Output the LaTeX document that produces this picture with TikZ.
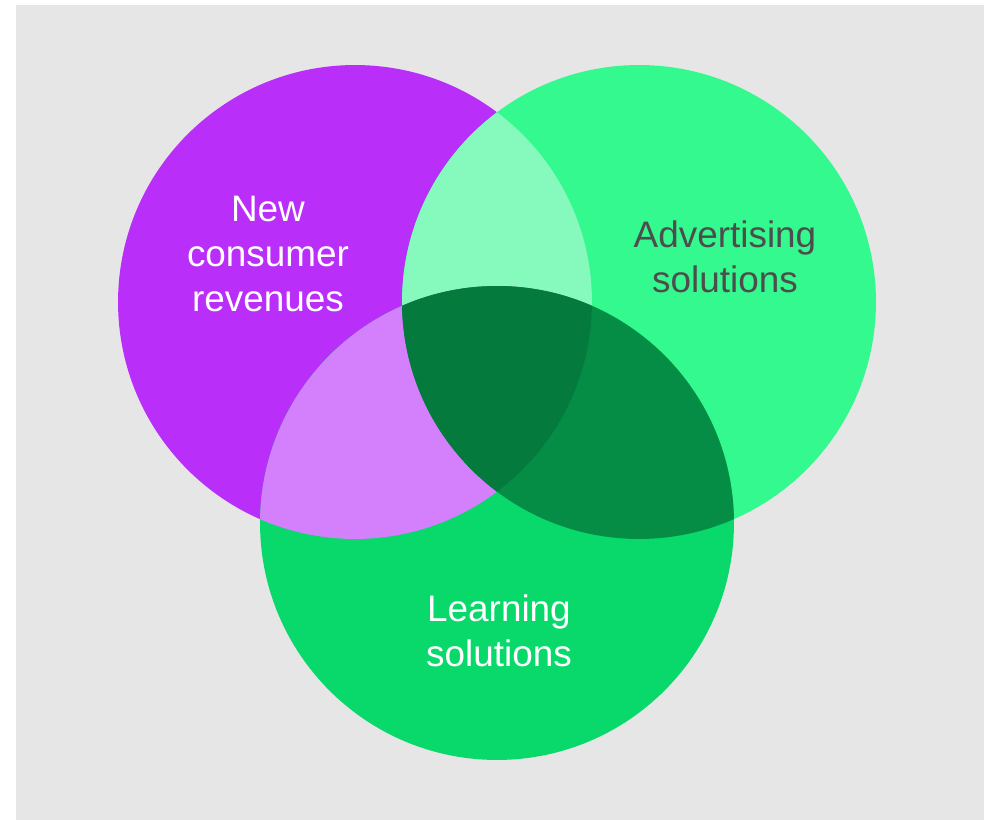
\documentclass[tikz,border=0pt]{standalone}
\usepackage{fontspec}
\setmainfont{Liberation Sans}
\definecolor{backgray}{HTML}{E6E6E6}
\definecolor{consumerfill}{HTML}{B92EF9}
\definecolor{advertfill}{HTML}{33F98E}
\definecolor{learnfill}{HTML}{08D96A}
\definecolor{consadv}{HTML}{86FABD}
\definecolor{conslearn}{HTML}{D47FFC}
\definecolor{advlearn}{HTML}{068D45}
\definecolor{allthree}{HTML}{047B3D}
\definecolor{darktext}{HTML}{4D4D4D}
\begin{document}
\begin{tikzpicture}[x=0.02cm,y=-0.02cm,
  setlabel/.style={align=center,font=\fontsize{21}{25.5}\selectfont}]
\useasboundingbox (0,0) rectangle (988,820);
\fill[backgray] (16,5) rectangle (984,820);
% the three sets
\coordinate (cons) at (355,302);
\coordinate (adv) at (639,302);
\coordinate (learn) at (497,523);
\fill[consumerfill] (cons) circle[radius=4.74cm];
\fill[advertfill] (adv) circle[radius=4.74cm];
\fill[learnfill] (learn) circle[radius=4.74cm];
% overlaps
\begin{scope}
  \clip (cons) circle[radius=4.74cm];
  \fill[consadv] (adv) circle[radius=4.74cm];
  \fill[conslearn] (learn) circle[radius=4.74cm];
\end{scope}
\begin{scope}
  \clip (adv) circle[radius=4.74cm];
  \fill[advlearn] (learn) circle[radius=4.74cm];
  \clip (learn) circle[radius=4.74cm];
  \fill[allthree] (cons) circle[radius=4.74cm];
\end{scope}
% labels
\node[setlabel,text=white] (newcons) at (268,254) {New\\consumer\\revenues};
\node[setlabel,text=darktext] (advsol) at (725,257) {Advertising\\solutions};
\node[setlabel,text=white] (learnsol) at (499,631) {Learning\\solutions};
\end{tikzpicture}
\end{document}
